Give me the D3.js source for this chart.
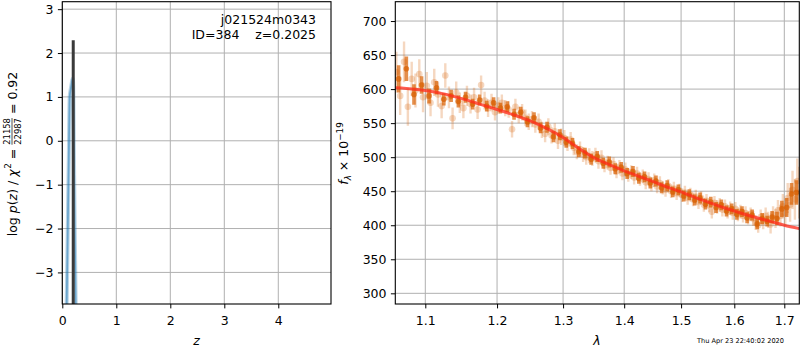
<!DOCTYPE html>
<html><head><meta charset="utf-8">
<script src="https://cdn.jsdelivr.net/npm/d3@7"></script>
<style>
body{margin:0;background:#fff}
svg{display:block}
text{font-family:"DejaVu Sans","Liberation Sans",sans-serif;fill:#000}
</style>
</head><body>
<svg id="c" width="800" height="350"></svg>
<script>
// ---------------- data: left panel (redshift PDF) ----------------
const zGrid = [0.06, 0.08, 0.10, 0.12, 0.137, 0.16, 0.185, 0.195, 0.205, 0.215, 0.23, 0.248, 0.26];
const logPz = [-5.0, -3.8, -2.1, -0.4, 1.0, 1.2, 1.38, 1.42, 1.1, -0.3, -2.0, -3.72, -5.0];
const zBest = 0.2025;
const zBestLogP = 2.29;
const zTicks = [0, 1, 2, 3, 4];
const logPTicks = [-3, -2, -1, 0, 1, 2, 3];
const objName = "j021524m0343";
const objInfo = "ID=384    z=0.2025";

// ---------------- data: right panel (spectrum) ----------------
const waveObs = [1.062,1.067,1.072,1.077,1.082,1.087,1.092,1.097,1.102,1.107,1.112,1.117,1.122,1.127,1.132,1.137,1.142,1.147,1.152,1.157,
1.162,1.167,1.172,1.177,1.182,1.187,1.192,1.197,1.202,1.207,1.212,1.217,1.222,1.227,1.232,1.237,1.242,1.247,1.252,1.257,
1.262,1.267,1.272,1.277,1.282,1.287,1.292,1.297,1.302,1.307,1.312,1.317,1.322,1.327,1.332,1.337,1.342,1.347,1.352,1.357,
1.362,1.367,1.372,1.377,1.382,1.387,1.392,1.397,1.402,1.407,1.412,1.417,1.422,1.427,1.432,1.437,1.442,1.447,1.452,1.457,
1.462,1.467,1.472,1.477,1.482,1.487,1.492,1.497,1.502,1.507,1.512,1.517,1.522,1.527,1.532,1.537,1.542,1.547,1.552,1.557,
1.562,1.567,1.572,1.577,1.582,1.587,1.592,1.597,1.602,1.607,1.612,1.617,1.622,1.627,1.632,1.637,1.642,1.647,1.652,1.657,
1.662,1.667,1.672,1.677,1.682,1.687,1.692,1.697,1.702,1.707,1.712,1.717,1.722,1.727,1.731];
const fluxObs = [625,590,640,574,615,598,622,588,605,580,610,592,575,620,588,557,595,580,572,590,
578,588,570,606,583,572,580,566,576,580,572,570,541,574,562,566,558,552,556,548,
552,540,534,545,532,538,524,530,528,520,526,514,508,512,504,500,502,498,503,494,
499,488,492,484,490,479,486,476,482,474,478,470,476,468,472,463,468,460,466,457,
462,455,452,458,450,454,447,451,444,448,440,445,438,442,434,440,430,436,429,420,
433,427,430,423,428,420,425,418,424,416,420,414,418,411,416,410,404,400,412,405,
414,408,401,415,410,422,414,428,418,440,430,452,438,465,448];
const errObs = [30,28,30,28,25,25,22,22,20,20,20,18,18,18,16,16,16,15,15,15,
14,14,14,14,13,13,13,12,12,12,12,12,12,12,12,12,12,12,12,12,
12,12,12,12,12,12,12,12,12,11,11,11,11,11,11,11,11,11,11,11,
11,10,10,10,10,10,10,10,10,10,10,10,10,10,10,10,10,10,10,10,
10,10,10,10,10,10,10,10,10,10,10,10,10,10,10,10,10,10,10,10,
10,10,10,10,10,10,10,10,10,10,10,10,10,10,10,11,11,11,11,11,
12,12,13,13,14,15,16,18,20,22,25,28,30,33,38];

const waveBin = [1.065,1.075,1.085,1.095,1.105,1.115,1.125,1.135,1.145,1.155,1.165,1.175,1.185,1.195,1.205,1.215,1.225,1.235,1.245,1.255,
1.265,1.275,1.285,1.295,1.305,1.315,1.325,1.335,1.345,1.355,1.365,1.375,1.385,1.395,1.405,1.415,1.425,1.435,1.445,1.455,
1.465,1.475,1.485,1.495,1.505,1.515,1.525,1.535,1.545,1.555,1.565,1.575,1.585,1.595,1.605,1.615,1.625,1.635,1.645,1.655,
1.665,1.675,1.685,1.695,1.705,1.715,1.725];
const fluxBin = [615,630,592,606,590,602,585,590,582,588,578,584,575,580,572,574,563,566,552,558,
543,544,530,533,522,520,508,506,497,501,491,493,483,485,476,479,469,471,462,465,
455,458,449,452,443,445,437,440,431,434,426,430,421,424,416,420,411,415,402,410,
406,412,410,424,426,446,448];
const errBin = [20,18,15,13,11,10,9,9,9,8,8,8,8,8,8,8,8,8,8,8,
8,8,8,8,8,8,8,8,8,8,8,8,8,8,8,8,8,8,8,8,
8,8,8,8,8,8,8,8,8,8,8,8,8,8,8,8,8,8,8,8,
8,9,10,12,14,16,18];

const waveModel = [1.0607,1.075,1.10,1.125,1.15,1.175,1.20,1.225,1.25,1.275,1.30,1.325,1.35,1.375,1.40,1.425,1.45,1.475,1.50,1.525,1.55,1.575,1.60,1.625,1.65,1.675,1.70,1.7312];
const fluxModel = [602,601,598,593,586,578,570,562,553,542,529,513,499,489,480,472,464,456,449,441,434,427,421,415,410,405,400,395];

const lamTicks = [1.1, 1.2, 1.3, 1.4, 1.5, 1.6, 1.7];
const fluxTicks = [300, 350, 400, 450, 500, 550, 600, 650, 700];
const timeStamp = "Thu Apr 23 22:40:02 2020";

// ---------------- drawing ----------------
const svg = d3.select("#c");
const FS = 12.5, TICK = 4.4, PAD = 4.4, GRID = "#b0b0b0";

function panel(x0, x1, y0, y1, xs, ys, xt, yt, xfmt, yfmt, id) {
  const g = svg.append("g");
  g.append("clipPath").attr("id", id).append("rect")
    .attr("x", x0).attr("y", y0).attr("width", x1 - x0).attr("height", y1 - y0);
  g.append("g").selectAll("line").data(xt).join("line")
    .attr("x1", d => xs(d)).attr("x2", d => xs(d)).attr("y1", y0).attr("y2", y1)
    .attr("stroke", GRID).attr("stroke-width", 1);
  g.append("g").selectAll("line").data(yt).join("line")
    .attr("x1", x0).attr("x2", x1).attr("y1", d => ys(d)).attr("y2", d => ys(d))
    .attr("stroke", GRID).attr("stroke-width", 1);
  const plot = g.append("g").attr("clip-path", `url(#${id})`);
  const axes = svg.append("g");
  const ax = axes.append("g").attr("transform", `translate(0,${y1})`)
    .call(d3.axisBottom(xs).tickValues(xt).tickFormat(xfmt).tickSize(TICK).tickPadding(PAD));
  ax.selectAll("text").attr("dy", null).attr("y", 21).style("font-size", FS + "px").style("font-family", "DejaVu Sans");
  const ay = axes.append("g").attr("transform", `translate(${x0},0)`)
    .call(d3.axisLeft(ys).tickValues(yt).tickFormat(yfmt).tickSize(TICK).tickPadding(PAD));
  ay.selectAll("text").style("font-size", FS + "px").style("font-family", "DejaVu Sans");
  [ax, ay].forEach(a => { a.select(".domain").remove(); a.selectAll("line").attr("stroke", "#000").attr("stroke-width", 1); });
  axes.append("rect").attr("x", x0).attr("y", y0).attr("width", x1 - x0).attr("height", y1 - y0)
    .attr("fill", "none").attr("stroke", "#000").attr("stroke-width", 1.1);
  return plot;
}

// ---------- Left panel ----------
const xL = d3.scaleLinear().domain([0, 4.976]).range([62.3, 331]);
const yL = d3.scaleLinear().domain([-3.72, 3.17]).range([304, 1.7]);
const minus = d => (d < 0 ? "\u2212" + Math.abs(d) : String(d));
const pL = panel(62.3, 331, 1.7, 304, xL, yL, zTicks, logPTicks, d => String(d), minus, "clipL");
const pz = zGrid.map((z, i) => [z, logPz[i]]);
const pzLine = d3.line().x(d => xL(d[0])).y(d => yL(d[1])).curve(d3.curveMonotoneX);
pL.append("path").datum(pz).attr("d", pzLine)
  .attr("fill", "none").attr("stroke", "#1f77b4").attr("stroke-opacity", 0.3).attr("stroke-width", 4);
pL.append("path").datum(pz).attr("d", pzLine)
  .attr("fill", "none").attr("stroke", "#1f77b4").attr("stroke-opacity", 0.5).attr("stroke-width", 1.8);
pL.append("line").attr("x1", xL(zBest)).attr("x2", xL(zBest))
  .attr("y1", yL(zBestLogP)).attr("y2", yL(-3.72) + 2)
  .attr("stroke", "#3a3a3a").attr("stroke-width", 3);

svg.append("text").attr("x", 316).attr("y", 24).attr("text-anchor", "end")
  .style("font-size", FS + "px").text(objName);
svg.append("text").attr("x", 316).attr("y", 39).attr("text-anchor", "end")
  .style("font-size", FS + "px").attr("xml:space", "preserve").style("white-space", "pre").text(objInfo);

// ---------- Right panel ----------
const xR = d3.scaleLog().domain([1.0607, 1.7312]).range([395.3, 799.3]);
const yR = d3.scaleLinear().domain([284.3, 728.4]).range([304, 1.7]);
const pR = panel(395.3, 799.3, 1.7, 304, xR, yR, lamTicks, fluxTicks, d3.format(".1f"), d => String(d), "clipR");
const ORANGE = "#d95f02";
const obs = waveObs.map((w, i) => ({ w, f: fluxObs[i], e: errObs[i] }));
const bin = waveBin.map((w, i) => ({ w, f: fluxBin[i], e: errBin[i] }));
pR.append("g").selectAll("line").data(obs).join("line")
  .attr("x1", d => xR(d.w)).attr("x2", d => xR(d.w))
  .attr("y1", d => yR(d.f - d.e)).attr("y2", d => yR(d.f + d.e))
  .attr("stroke", ORANGE).attr("stroke-opacity", 0.25).attr("stroke-width", 2.4);
pR.append("g").selectAll("circle").data(obs).join("circle")
  .attr("cx", d => xR(d.w)).attr("cy", d => yR(d.f)).attr("r", 3.3)
  .attr("fill", ORANGE).attr("fill-opacity", 0.25);
pR.append("g").selectAll("line").data(bin).join("line")
  .attr("x1", d => xR(d.w)).attr("x2", d => xR(d.w))
  .attr("y1", d => yR(d.f - d.e)).attr("y2", d => yR(d.f + d.e))
  .attr("stroke", ORANGE).attr("stroke-opacity", 0.7).attr("stroke-width", 3.6);
pR.append("g").selectAll("circle").data(bin).join("circle")
  .attr("cx", d => xR(d.w)).attr("cy", d => yR(d.f)).attr("r", 2.8)
  .attr("fill", ORANGE).attr("fill-opacity", 0.7);
pR.append("path").datum(waveModel.map((w, i) => [w, fluxModel[i]]))
  .attr("d", d3.line().x(d => xR(d[0])).y(d => yR(d[1])).curve(d3.curveCatmullRom))
  .attr("fill", "none").attr("stroke", "#ff2a1a").attr("stroke-opacity", 0.75).attr("stroke-width", 3);

// ---------- axis labels ----------
svg.append("text").attr("x", 196.5).attr("y", 345).attr("text-anchor", "middle")
  .style("font-size", FS + "px").style("font-style", "italic").text("z");
svg.append("text").attr("x", 597).attr("y", 345).attr("text-anchor", "middle")
  .style("font-size", FS + "px").style("font-style", "italic").text("λ");

// Left y label with fraction (rotated)
{
  const g = svg.append("g").attr("transform", "translate(0,154) rotate(-90)");
  const base = 16.8;
  let u = 0;
  function put(txt, opts = {}) {
    const t = g.append("text").attr("x", u).attr("y", opts.y ?? base)
      .style("font-size", (opts.fs ?? FS) + "px").attr("xml:space", "preserve").style("white-space", "pre");
    if (opts.italic) t.style("font-style", "italic");
    t.text(txt);
    u += t.node().getComputedTextLength() + (opts.gap ?? 0);
    return t;
  }
  put("log", { gap: 4 });
  put("p", { italic: true });
  put("(");
  put("z", { italic: true });
  put(")", { gap: 4 });
  put("/", { gap: 4 });
  put("χ", { italic: true, gap: 0.5 });
  put("2", { fs: 8.8, y: base - 5.5, gap: 4 });
  put("=", { gap: 4 });
  const fx = u;
  const num = g.append("text").attr("y", 9.6).style("font-size", "8.4px").text("21158");
  const den = g.append("text").attr("y", 21.2).style("font-size", "8.4px").text("22987");
  const fw = Math.max(num.node().getComputedTextLength(), den.node().getComputedTextLength());
  num.attr("x", fx + fw / 2).attr("text-anchor", "middle");
  den.attr("x", fx + fw / 2).attr("text-anchor", "middle");
  u += fw + 4;
  put("=", { gap: 4 });
  put("0.92");
  const shift = -u / 2;
  g.selectAll("text").each(function () { const s = d3.select(this); s.attr("x", +s.attr("x") + shift); });
  g.append("line").attr("x1", fx + shift).attr("x2", fx + fw + shift).attr("y1", 12).attr("y2", 12)
    .attr("stroke", "#000").attr("stroke-width", 0.7);
}

// right y label
{
  const g = svg.append("g").attr("transform", "translate(0,153.5) rotate(-90)");
  const t = g.append("text").attr("y", 348).style("font-size", FS + "px").attr("text-anchor", "middle");
  t.append("tspan").style("font-style", "italic").text("f");
  t.append("tspan").attr("dy", 3).style("font-size", "8.8px").style("font-style", "italic").text("λ");
  t.append("tspan").attr("dy", -3).text(" × 10");
  t.append("tspan").attr("dy", -5.5).style("font-size", "8.8px").text("\u221219");
}

svg.append("text").attr("x", 697).attr("y", 342.5).style("font-size", "6.6px").text(timeStamp);
</script>
</body></html>
